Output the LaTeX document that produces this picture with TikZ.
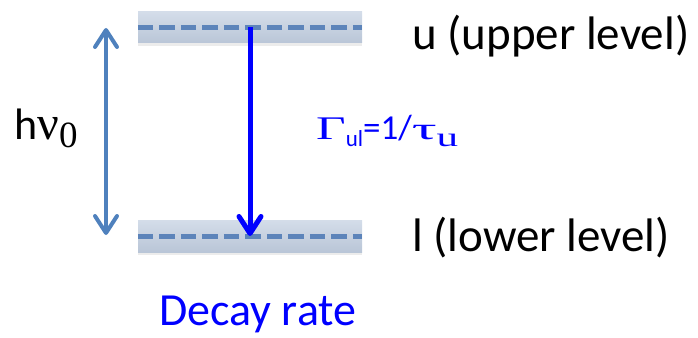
\documentclass[tikz,border=0pt]{standalone}
\usepackage{graphicx}
\usepackage{fontspec}
\setmainfont{Carlito}
\newfontfamily\tms{Liberation Serif}
\usetikzlibrary{arrows.meta,shadows}
\definecolor{steel}{RGB}{79,129,189}
\definecolor{bandfill}{RGB}{193,206,224}
\definecolor{dashcol}{RGB}{92,132,186}
\definecolor{pureblue}{RGB}{0,0,255}
\begin{document}
\begin{tikzpicture}[x=1pt,y=-1pt,
  >={Straight Barb[round,length=17pt,width=22pt]},
  band/.style={rectangle, minimum width=224pt, minimum height=31pt, inner sep=0pt,
    top color=bandfill!70!white, bottom color=bandfill!96!black,
    drop shadow={shadow xshift=0pt, shadow yshift=-3pt, opacity=0.15}},
  dashline/.style={draw=dashcol, line width=5pt, dash pattern=on 15.5pt off 6pt},
  lbl/.style={inner sep=0pt, anchor=base west, font=\fontsize{47}{56}\selectfont}]
\useasboundingbox (0,0) rectangle (698,337);
\node[band] (ub) at (250,27.5) {};
\node[band, minimum height=32pt] (lb) at (250,236) {};
\draw[dashline] (ub.west) -- (ub.east);
\draw[dashline] (lb.west) -- (lb.east);
\coordinate (ht) at (106,28);
\coordinate (hb) at (106,235);
\draw[steel, line width=4pt, <->] (ht) -- (hb);
\draw[pureblue, line width=5pt, ->] (ub.center) -- (lb.center);
\node[lbl] (ut) at (412,49) {u (upper level)};
\node[lbl] (lt) at (412,251) {l (lower level)};
\node[lbl, text=pureblue, font=\fontsize{46}{54}\selectfont] (dr) at (159,325) {Decay rate};
\node[inner sep=0pt, anchor=base west, text=pureblue] (gam) at (316,139)
  {{\tms\fontsize{33}{40}\selectfont\scalebox{1.55}[1]{Γ}}\raisebox{-7pt}{\fontsize{23}{28}\selectfont ul}{\fontsize{35}{42}\selectfont =1/}{\tms\fontsize{31}{38}\selectfont\scalebox{2.0}[1]{τ}}\raisebox{-7pt}{\tms\fontsize{27}{32}\selectfont\scalebox{1.6}[1]{u}}};
\node[inner sep=0pt, anchor=base west] (hnu) at (14,139)
  {{\fontsize{44}{52}\selectfont h}{\tms\fontsize{48}{56}\selectfont ν}\raisebox{-8pt}{\tms\fontsize{37}{44}\selectfont 0}};
\end{tikzpicture}
\end{document}
